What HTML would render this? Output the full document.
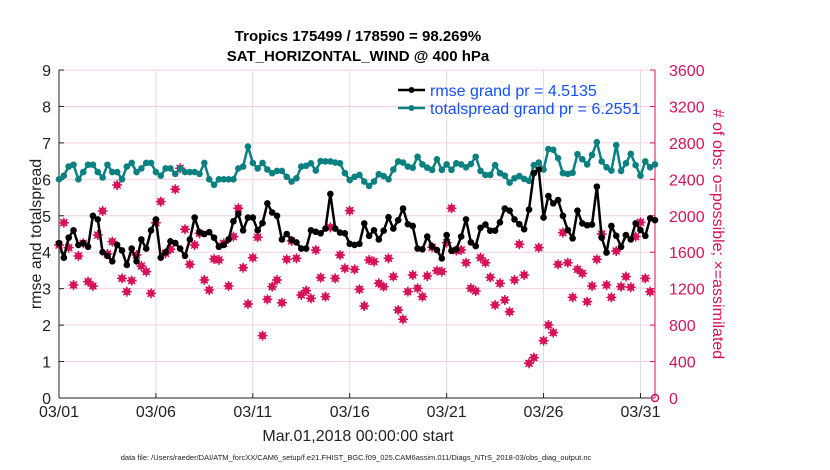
<!DOCTYPE html>
<html><head><meta charset="utf-8"><style>
body{margin:0;background:#fff;}
svg{display:block;font-family:"Liberation Sans",sans-serif;}
</style></head><body>
<svg id="chart" width="830" height="470"></svg>
<script>
const rmse=[4.25,3.85,4.4,4.6,4.2,4.25,4.15,5.0,4.9,4.0,3.9,3.75,4.2,4.05,3.65,4.1,3.75,4.35,4.1,4.6,4.9,3.85,4.0,4.3,4.25,4.1,3.9,4.35,4.95,4.55,4.5,4.55,4.4,4.15,4.2,4.35,4.85,5.05,4.6,4.95,4.95,4.6,4.8,
5.34,5.09,5.0,4.35,4.5,4.34,4.27,4.1,4.1,4.6,4.56,4.52,4.65,5.6,4.65,4.54,4.52,4.23,4.2,4.23,4.79,4.45,4.6,4.35,4.59,4.96,4.65,4.88,5.2,4.77,4.72,4.1,4.08,4.43,4.16,4.06,3.83,4.47,4.04,4.08,4.43,
4.9,4.27,4.17,4.67,4.76,4.59,4.59,4.82,5.2,5.14,4.9,4.77,4.63,5.17,6.17,6.27,4.95,5.54,5.34,5.43,5.0,4.61,4.38,5.14,4.79,4.74,4.76,5.8,4.4,3.99,4.72,4.45,4.15,4.47,4.35,4.79,4.61,4.45,4.93,4.88];
const spread=[6.0,6.1,6.35,6.4,6.0,6.2,6.4,6.4,6.2,6.05,6.4,6.2,6.2,6.0,6.35,6.45,6.2,6.3,6.45,6.45,6.2,6.1,6.3,6.3,6.15,6.3,6.2,6.2,6.2,6.15,6.45,6.0,5.85,6.0,6.0,6.0,6.0,6.3,6.35,6.9,6.45,6.3,6.45,
6.27,6.17,6.23,6.23,6.07,5.94,6.03,6.35,6.37,6.44,6.24,6.5,6.49,6.49,6.46,6.44,6.17,5.98,6.07,6.12,5.94,5.82,5.94,6.14,6.09,6.0,6.27,6.49,6.46,6.35,6.32,6.62,6.41,6.32,6.26,6.55,6.26,6.41,6.26,6.44,6.41,
6.33,6.42,6.62,6.23,6.12,6.12,6.39,6.17,6.1,5.91,6.03,6.09,6.01,5.96,6.39,6.46,6.27,6.83,6.81,6.58,6.17,6.15,6.18,6.69,6.55,6.41,6.67,7.02,6.49,6.33,6.24,6.94,6.23,6.44,6.7,6.39,6.1,6.49,6.33,6.41];
const nobs=[1679,1924,1650,1240,1559,1698,1277,1229,1789,2052,1581,1716,2338,1313,1167,1288,1570,1449,1387,1149,1924,2155,1588,1632,2291,2521,1852,1467,1679,1807,1295,1185,1526,1515,1698,1229,1771,2082,1430,1032,1540,1764,684,1083,
1222,1295,1046,1522,1723,1533,1131,1178,1094,1624,1321,1112,1873,1313,1570,1423,2056,1412,1193,1010,1515,1497,1259,1222,1533,1332,966,864,1167,1350,1204,1112,1339,1654,1398,1387,1705,2082,1617,1624,
1485,1204,1174,1540,1485,1324,1021,1259,1076,947,1295,1687,1350,381,443,1650,629,801,717,1467,1815,1485,1105,1412,1368,1057,1229,1522,1800,1240,1105,1613,1222,1332,1215,1771,1928,1313,1167,0];
const leftTicks=[0,1,2,3,4,5,6,7,8,9];
const rightTicks=[0,400,800,1200,1600,2000,2400,2800,3200,3600];
const xTickDays=[0,5,10,15,20,25,30];
const xTickLabels=["03/01","03/06","03/11","03/16","03/21","03/26","03/31"];

const NS="http://www.w3.org/2000/svg";
const svg=document.getElementById('chart');
const X0=59,X1=655,Y0=398,Y1=70,DMAX=30.75;
const xs=d=>X0+(d/DMAX)*(X1-X0);
const yl=v=>Y0-(v/9)*(Y0-Y1);
const yr=v=>Y0-(v/3600)*(Y0-Y1);
const PINK="#d6135a",TEAL="#0a8080";
function mk(tag,at,parent){const e=document.createElementNS(NS,tag);for(const k in at)e.setAttribute(k,at[k]);(parent||svg).appendChild(e);return e;}

// grid
xTickDays.forEach((d,i)=>{
  const g=mk('line',{x1:xs(d),x2:xs(d),y1:Y1,y2:Y0,stroke:'#ddd','stroke-width':1});
  
  
});
rightTicks.forEach(v=>{
  if(v===0)return;
  const g=mk('line',{x1:X0,x2:X1,y1:yr(v),y2:yr(v),stroke:'#f5d0dc','stroke-width':1});
  
  
});
// axes
let a=mk('line',{x1:X0,x2:X0,y1:Y1,y2:Y0,stroke:'#222','stroke-width':1});

a=mk('line',{x1:X0,x2:X1,y1:Y0,y2:Y0,stroke:'#222','stroke-width':1});

a=mk('line',{x1:X1,x2:X1,y1:Y1,y2:Y0,stroke:PINK,'stroke-width':1});


leftTicks.forEach(v=>{
  const t=mk('text',{x:X0-8,y:yl(v)+6,'text-anchor':'end','font-size':16,fill:'#222'});
  t.textContent=v;
  
  
  mk('line',{x1:X0,x2:X0+5,y1:yl(v),y2:yl(v),stroke:'#222'});
});
rightTicks.forEach(v=>{
  const t=mk('text',{x:X1+14,y:yr(v)+6,'font-size':16,fill:PINK});
  t.textContent=v;
  
  
  mk('line',{x1:X1-5,x2:X1,y1:yr(v),y2:yr(v),stroke:PINK});
});
xTickDays.forEach((d,i)=>{
  mk('line',{x1:xs(d),x2:xs(d),y1:Y0-5,y2:Y0,stroke:'#222'});
  const t=mk('text',{x:xs(d),y:417,'text-anchor':'middle','font-size':16,fill:'#222'});
  t.textContent=xTickLabels[i];
  
  
});

// pink obs markers
nobs.forEach((v,i)=>{
  const x=xs(i/4),y=yr(v);
  const g=mk('g',{});
  
  
  if(v===0){mk('circle',{cx:x,cy:y,r:3.5,fill:'none',stroke:PINK,'stroke-width':1.5},g);return;}
  mk('circle',{cx:x,cy:y,r:3.5,fill:PINK},g);
  mk('path',{d:`M${x-5} ${y}H${x+5}M${x} ${y-5}V${y+5}M${x-3.5} ${y-3.5}L${x+3.5} ${y+3.5}M${x-3.5} ${y+3.5}L${x+3.5} ${y-3.5}`,stroke:PINK,'stroke-width':1.5},g);
});

function series(vals,color,name){
  const pts=vals.map((v,i)=>xs(i/4).toFixed(1)+','+yl(v).toFixed(1)).join(' ');
  const p=mk('polyline',{points:pts,fill:'none',stroke:color,'stroke-width':2.5,'stroke-linejoin':'round'});
  
  
  vals.forEach((v,i)=>{
    const c=mk('circle',{cx:xs(i/4),cy:yl(v),r:3.3,fill:color});
    
    
  });
}
series(spread,TEAL,'totalspread');
series(rmse,'#000','rmse');

// legend
[['#000','rmse grand pr = 4.5135',90],[TEAL,'totalspread grand pr = 6.2551',108]].forEach(([c,txt,y])=>{
  const g=mk('g',{});
  
  
  mk('line',{x1:398,x2:425,y1:y,y2:y,stroke:c,'stroke-width':2.5},g);
  mk('circle',{cx:411.5,cy:y,r:3,fill:c},g);
  const t=mk('text',{x:430,y:y+6,'font-size':16,fill:'#1450ff'},g);t.textContent=txt;
});

// titles
[['Tropics 175499 / 178590 = 98.269%',41,'title-line-1'],['SAT_HORIZONTAL_WIND @ 400 hPa',61,'title-line-2']].forEach(([s,y,n])=>{
  const t=mk('text',{x:358,y:y,'text-anchor':'middle','font-size':15,'font-weight':'bold',fill:'#000'});
  t.textContent=s;
});
let t=mk('text',{x:0,y:0,'text-anchor':'middle','font-size':16,fill:'#222',transform:'translate(41,234) rotate(-90)'});
t.textContent='rmse and totalspread';
t=mk('text',{x:0,y:0,'text-anchor':'middle','font-size':16,fill:PINK,transform:'translate(713,234) rotate(90)'});
t.textContent='# of obs: o=possible; \u00d7=assimilated';
t=mk('text',{x:358,y:441,'text-anchor':'middle','font-size':16,fill:'#222'});
t.textContent='Mar.01,2018 00:00:00 start';
t=mk('text',{x:356,y:460,'text-anchor':'middle','font-size':7.5,fill:'#222'});
t.textContent='data file: /Users/raeder/DAI/ATM_forcXX/CAM6_setup/f.e21.FHIST_BGC.f09_025.CAM6assim.011/Diags_NTrS_2018-03/obs_diag_output.nc';

</script>
</body></html>
